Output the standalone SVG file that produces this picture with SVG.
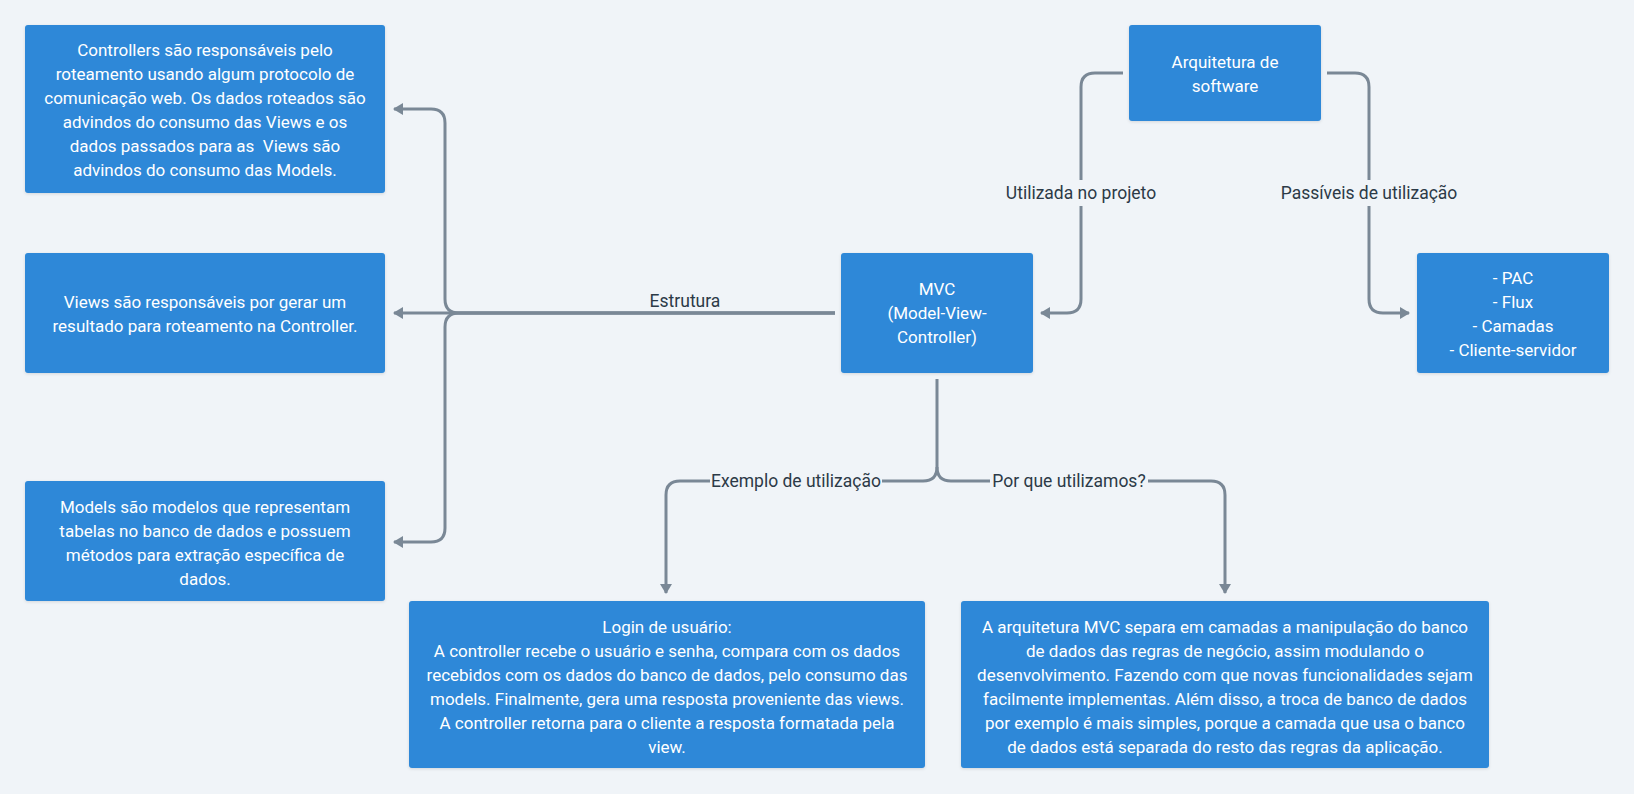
<svg xmlns="http://www.w3.org/2000/svg" width="1634" height="794" viewBox="0 0 1634 794">
<style>
.bg{fill:#f0f4f8}
.box{fill:#2d88d8;filter:url(#sh)}
.t{font-family:Roboto,"Noto Sans",sans-serif;font-size:17px;fill:#ffffff;text-anchor:middle;white-space:pre}
.lbl{font-family:Roboto,"Noto Sans",sans-serif;font-size:17.5px;fill:#2c3a47;text-anchor:middle}
.c{fill:none;stroke:#7a8896;stroke-width:3;stroke-linejoin:round}
</style>
<defs>
<filter id="sh" x="-10%" y="-10%" width="120%" height="130%">
<feDropShadow dx="0" dy="1" stdDeviation="1.5" flood-color="#000" flood-opacity="0.12"/>
</filter>
<marker id="ah" viewBox="0 0 10 12" refX="9" refY="6" markerWidth="10" markerHeight="12" markerUnits="userSpaceOnUse" orient="auto">
<path d="M0,0 L10,6 L0,12 Z" fill="#7a8896"/>
</marker>
</defs>
<rect class="bg" x="0" y="0" width="1634" height="794"/>

<g id="connectors">
<path class="c" marker-end="url(#ah)" d="M835,313 H459 Q445,313 445,299 V123 Q445,109 431,109 H394"/>
<path class="c" marker-end="url(#ah)" d="M835,313 H394"/>
<path class="c" marker-end="url(#ah)" d="M835,313 H459 Q445,313 445,327 V528 Q445,542 431,542 H394"/>
<path class="c" marker-end="url(#ah)" d="M1123,73 H1095 Q1081,73 1081,87 V180 M1081,206 V299 Q1081,313 1067,313 H1041"/>
<path class="c" marker-end="url(#ah)" d="M1327,73 H1355 Q1369,73 1369,87 V180 M1369,206 V299 Q1369,313 1383,313 H1409"/>
<path class="c" marker-end="url(#ah)" d="M937,379 V467 Q937,481 923,481 H882 M710,481 H680 Q666,481 666,495 V593"/>
<path class="c" marker-end="url(#ah)" d="M937,467 Q937,481 951,481 H990 M1148,481 H1211 Q1225,481 1225,495 V593"/>
<text class="lbl" x="685" y="307">Estrutura</text>
<text class="lbl" x="1081" y="199">Utilizada no projeto</text>
<text class="lbl" x="1369" y="199">Passíveis de utilização</text>
<text class="lbl" x="796" y="487">Exemplo de utilização</text>
<text class="lbl" x="1069" y="487">Por que utilizamos?</text>
</g>

<g id="controllers">
<rect class="box" x="25" y="25" width="360" height="168" rx="3"/>
<text class="t" x="205" y="56">Controllers são responsáveis pelo</text>
<text class="t" x="205" y="80">roteamento usando algum protocolo de</text>
<text class="t" x="205" y="104">comunicação web. Os dados roteados são</text>
<text class="t" x="205" y="128">advindos do consumo das Views e os</text>
<text class="t" x="205" y="152">dados passados para as  Views são</text>
<text class="t" x="205" y="176">advindos do consumo das Models.</text>
</g>

<g id="views">
<rect class="box" x="25" y="253" width="360" height="120" rx="3"/>
<text class="t" x="205" y="308">Views são responsáveis por gerar um</text>
<text class="t" x="205" y="332">resultado para roteamento na Controller.</text>
</g>

<g id="models">
<rect class="box" x="25" y="481" width="360" height="120" rx="3"/>
<text class="t" x="205" y="513">Models são modelos que representam</text>
<text class="t" x="205" y="537">tabelas no banco de dados e possuem</text>
<text class="t" x="205" y="561">métodos para extração específica de</text>
<text class="t" x="205" y="585">dados.</text>
</g>

<g id="mvc">
<rect class="box" x="841" y="253" width="192" height="120" rx="3"/>
<text class="t" x="937" y="295">MVC</text>
<text class="t" x="937" y="319">(Model-View-</text>
<text class="t" x="937" y="343">Controller)</text>
</g>

<g id="arquitetura">
<rect class="box" x="1129" y="25" width="192" height="96" rx="3"/>
<text class="t" x="1225" y="68">Arquitetura de</text>
<text class="t" x="1225" y="92">software</text>
</g>

<g id="padroes">
<rect class="box" x="1417" y="253" width="192" height="120" rx="3"/>
<text class="t" x="1513" y="284">- PAC</text>
<text class="t" x="1513" y="308">- Flux</text>
<text class="t" x="1513" y="332">- Camadas</text>
<text class="t" x="1513" y="356">- Cliente-servidor</text>
</g>

<g id="login">
<rect class="box" x="409" y="601" width="516" height="167" rx="3"/>
<text class="t" x="667" y="633">Login de usuário:</text>
<text class="t" x="667" y="657">A controller recebe o usuário e senha, compara com os dados</text>
<text class="t" x="667" y="681">recebidos com os dados do banco de dados, pelo consumo das</text>
<text class="t" x="667" y="705">models. Finalmente, gera uma resposta proveniente das views.</text>
<text class="t" x="667" y="729">A controller retorna para o cliente a resposta formatada pela</text>
<text class="t" x="667" y="753">view.</text>
</g>

<g id="porque">
<rect class="box" x="961" y="601" width="528" height="167" rx="3"/>
<text class="t" x="1225" y="633">A arquitetura MVC separa em camadas a manipulação do banco</text>
<text class="t" x="1225" y="657">de dados das regras de negócio, assim modulando o</text>
<text class="t" x="1225" y="681">desenvolvimento. Fazendo com que novas funcionalidades sejam</text>
<text class="t" x="1225" y="705">facilmente implementas. Além disso, a troca de banco de dados</text>
<text class="t" x="1225" y="729">por exemplo é mais simples, porque a camada que usa o banco</text>
<text class="t" x="1225" y="753">de dados está separada do resto das regras da aplicação.</text>
</g>
</svg>
